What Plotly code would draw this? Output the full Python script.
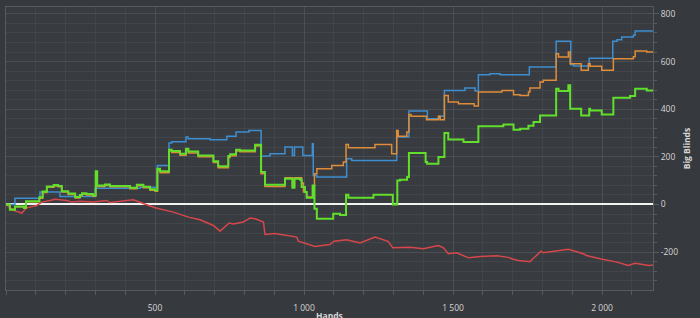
import plotly.graph_objects as go

# ---- data (hands, big blinds) ----
blue_hands = [0, 30, 114, 181, 299, 450, 508, 547, 556, 604, 611, 685, 741, 772, 815, 856, 870, 886, 936, 961,
              968, 996, 1028, 1031, 1043, 1143, 1160, 1311, 1352, 1414, 1454, 1471, 1540, 1574, 1585, 1624, 1658,
              1756, 1846, 1895, 1905, 1957, 2036, 2050, 2066, 2105, 2111, 2171]
blue_bb = [0, 26, 52, 34, 68, 72, 164, 258, 263, 283, 276, 272, 286, 304, 311, 202, 204, 213, 241, 206,
           241, 206, 255, 122, 115, 192, 185, 283, 392, 360, 370, 479, 489, 476, 545, 549, 545,
           577, 685, 587, 581, 614, 685, 692, 703, 710, 728, 730]

orange_hands = [0, 13, 30, 60, 67, 112, 123, 137, 160, 175, 187, 209, 232, 248, 255, 270, 292, 301, 306, 332,
                349, 416, 439, 461, 483, 500, 508, 517, 547, 556, 584, 604, 612, 645, 696, 712, 746, 752, 772, 785,
                836, 856, 869, 936, 961, 968, 992, 998, 1009, 1029, 1035, 1043, 1093, 1132, 1141, 1149, 1238, 1294,
                1311, 1316, 1345, 1352, 1359, 1411, 1451, 1457, 1471, 1484, 1518, 1571, 1585, 1664, 1703, 1725,
                1753, 1758, 1792, 1803, 1846, 1854, 1887, 1893, 1930, 1954, 1960, 1999, 2038, 2105, 2111, 2150, 2171]
orange_bb = [0, -20, -10, -16, 11, 26, 50, 72, 78, 74, 52, 42, 27, 36, 43, 40, 35, 130, 76, 80,
             74, 66, 79, 70, 60, 56, 144, 133, 224, 218, 207, 228, 216, 200, 176, 154, 197, 205, 224, 221,
             245, 129, 76, 112, 76, 112, 90, 52, 31, 76, 129, 150, 164, 178, 252, 238, 252, 213,
             311, 286, 304, 378, 370, 356, 370, 356, 458, 430, 423, 413, 472, 479, 461, 458,
             472, 489, 514, 521, 633, 619, 640, 591, 563, 591, 580, 563, 612, 620, 644, 640, 640]

green_hands = [0, 13, 30, 60, 67, 112, 123, 137, 160, 175, 187, 209, 232, 248, 255, 270, 292, 301, 306, 332,
               349, 416, 439, 461, 483, 500, 508, 517, 547, 556, 584, 604, 612, 645, 696, 712, 746, 752, 772, 785,
               836, 856, 869, 936, 961, 968, 987, 992, 1003, 1009, 1029, 1035, 1043, 1098, 1121, 1141, 1149, 1233,
               1298, 1313, 1322, 1346, 1352, 1408, 1413, 1451, 1471, 1484, 1535, 1585, 1669, 1703, 1725, 1753,
               1770, 1792, 1846, 1854, 1887, 1893, 1930, 1957, 1960, 1999, 2038, 2094, 2111, 2150, 2171]
green_bb = [0, -22, -8, -14, 14, 30, 55, 76, 82, 78, 56, 46, 31, 40, 47, 44, 38, 140, 80, 84,
            78, 70, 83, 74, 64, 60, 150, 139, 230, 224, 213, 234, 222, 206, 182, 160, 203, 211, 230, 227,
            251, 136, 83, 108, 70, 108, 104, 73, 52, 28, 80, -18, -60, -39, -44, 41, 28, 41,
            0, 101, 104, 115, 216, 178, 171, 199, 300, 273, 262, 328, 336, 314, 318, 330,
            346, 374, 486, 476, 500, 402, 374, 402, 395, 378, 448, 455, 486, 479, 479]

red_hands = [0, 25, 53, 69, 103, 120, 148, 164, 204, 220, 248, 293, 338, 349, 427, 466, 483, 500, 562, 612,
             651, 696, 718, 749, 763, 796, 819, 836, 864, 869, 903, 976, 981, 1020, 1037, 1087, 1101, 1143, 1188,
             1238, 1282, 1298, 1356, 1400, 1451, 1468, 1484, 1512, 1552, 1591, 1647, 1686, 1697, 1719, 1758, 1770,
             1795, 1803, 1887, 1937, 1948, 1993, 2050, 2088, 2111, 2122, 2156, 2171]
red_bb = [0, -25, -36, -14, -4, 10, 17, 22, 17, 10, 14, 10, 17, 8, 20, 3, -4, -14, -32, -53,
          -64, -88, -112, -78, -82, -74, -57, -60, -74, -126, -122, -137, -154, -168, -176, -168, -154, -148, -162,
          -137, -155, -182, -180, -186, -172, -182, -207, -203, -224, -218, -215, -222, -228, -235, -240, -226,
          -196, -203, -188, -207, -214, -228, -242, -256, -247, -249, -256, -254]

x_tickvals = [500, 1000, 1500, 2000]
x_ticktext = ["500", "1 000", "1 500", "2 000"]
y_tickvals = [-200, 0, 200, 400, 600, 800]
y_ticktext = ["-200", "0", "200", "400", "600", "800"]

BG = "#36393d"
PLOT_BG = "#383b3f"
GRID_MINOR = "#41454a"
GRID_MAJOR = "#4b4f54"
FRAME = "#575b60"
TXT = "#d6d6d6"

fig = go.Figure()
series = [
    (red_hands, red_bb, "#d6474c", 1.5, "linear"),
    (blue_hands, blue_bb, "#3d8fd1", 1.5, "hv"),
    (orange_hands, orange_bb, "#df8d38", 1.5, "hv"),
    (green_hands, green_bb, "#62df2c", 2.0, "hv"),
]
for xs, ys, col, w, shape in series:
    fig.add_trace(go.Scatter(x=xs, y=ys, mode="lines",
                             line=dict(color=col, width=w, shape=shape),
                             hoverinfo="skip", showlegend=False))

fig.update_layout(
    width=700, height=318,
    margin=dict(l=6, r=47, t=7, b=28),
    paper_bgcolor=BG, plot_bgcolor=PLOT_BG,
    font=dict(family="Open Sans", size=8.5, color=TXT),
    showlegend=False,
    annotations=[dict(text="<b>Hands</b>", xref="paper", yref="paper", x=0.5, y=0,
                      xanchor="center", yanchor="top", yshift=-18, showarrow=False,
                      font=dict(size=8.5, color=TXT))],
)
fig.update_xaxes(
    range=[0, 2171], tickvals=x_tickvals, ticktext=x_ticktext,
    showgrid=True, gridcolor=GRID_MAJOR, gridwidth=1,
    ticks="outside", ticklen=4, tickcolor=FRAME, ticklabelstandoff=6,
    minor=dict(dtick=100, tick0=0, showgrid=True, gridcolor=GRID_MINOR,
               ticks="outside", ticklen=4, tickcolor=FRAME),
    showline=True, mirror=True, linecolor=FRAME, linewidth=1,
    zeroline=False, automargin=False,
)
fig.update_yaxes(
    side="right", range=[-359, 829], tickvals=y_tickvals, ticktext=y_ticktext,
    showgrid=True, gridcolor=GRID_MAJOR, gridwidth=1,
    ticks="outside", ticklen=5, tickcolor=FRAME,
    minor=dict(dtick=40, tick0=0, showgrid=True, gridcolor=GRID_MINOR,
               ticks="outside", ticklen=3, tickcolor=FRAME),
    showline=True, mirror=True, linecolor=FRAME, linewidth=1,
    zeroline=True, zerolinecolor="#f2f2f2", zerolinewidth=2,
    automargin=False,
    title=dict(text="<b>Big Blinds</b>", standoff=6, font=dict(size=8.5, color=TXT)),
)

fig.write_html("out.html")
